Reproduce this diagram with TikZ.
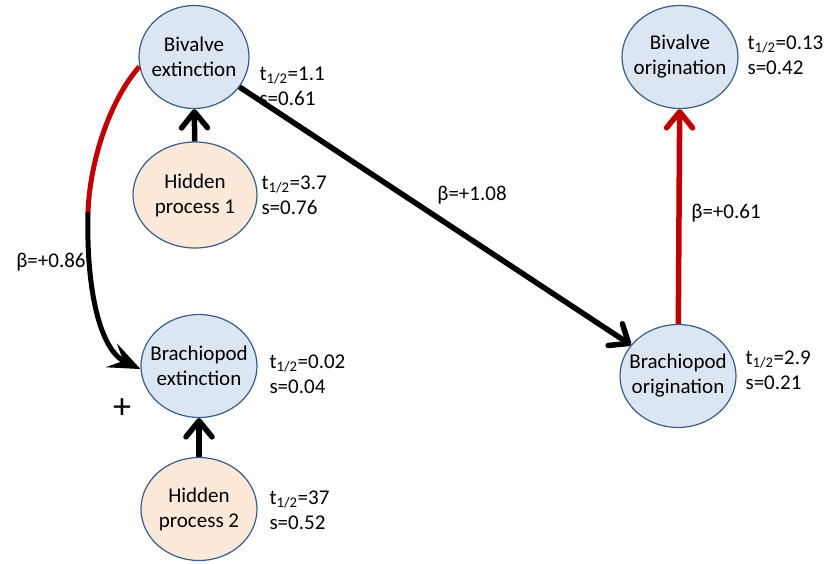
\documentclass[tikz,border=0pt]{standalone}
\usepackage{fontspec}
\setmainfont{Carlito}
\usetikzlibrary{shapes.geometric}
\usetikzlibrary{arrows.meta}
\definecolor{rateblue}{RGB}{220,230,242}
\definecolor{hiddenpeach}{RGB}{253,233,217}
\definecolor{rimblue}{RGB}{56,93,138}
\definecolor{linkred}{RGB}{192,0,0}

\begin{document}
\begin{tikzpicture}[x=1pt, y=-1pt, font=\fontsize{21}{25}\selectfont,
		rate/.style={draw=rimblue, line width=1.2pt, fill=rateblue, ellipse, inner sep=-20pt,
			minimum width=116pt, minimum height=103pt, align=center},
		hidden/.style={rate, fill=hiddenpeach},
		link/.style={line width=5.5pt, -{Straight Barb[length=16pt, width=26pt, round]}},
		stats/.style={anchor=west, align=left}]
		\useasboundingbox (0, 0) rectangle (836, 563);

		% processes
		\node (bext) [rate, minimum width=110pt] at (194, 57) {Bivalve\\extinction};
		\node (hid1) [hidden, minimum width=124pt, minimum height=106pt] at (195, 195) {Hidden\\process 1};
		\node (bxext) [rate] at (199, 366) {Brachiopod\\extinction};
		\node (hid2) [hidden] at (199, 509) {Hidden\\process 2};
		\node (borig) [rate] at (680, 57) {Bivalve\\origination};
		\node (bxorig) [rate] at (678, 376) {Brachiopod\\origination};

		% half-lives and stds
		\node (st1) [stats] at (256, 86) {t\textsubscript{1/2}=1.1\\s=0.61};
		\node (st2) [stats] at (258, 195) {t\textsubscript{1/2}=3.7\\s=0.76};
		\node (st3) [stats] at (266, 374) {t\textsubscript{1/2}=0.02\\s=0.04};
		\node (st4) [stats] at (266, 510) {t\textsubscript{1/2}=37\\s=0.52};
		\node (st5) [stats] at (744, 55) {t\textsubscript{1/2}=0.13\\s=0.42};
		\node (st6) [stats] at (742, 370) {t\textsubscript{1/2}=2.9\\s=0.21};

		% couplings
		\draw [link] (hid1) -- (bext);
		\draw [link] (hid2) -- (bxext);
		\draw [link] (bext) -- (bxorig);
		\draw [link, linkred] (bxorig) -- (borig);

		\coordinate (bend) at (88, 212);
		\draw [line width=5pt, linkred] (bext.190) .. controls (110, 100) and (90, 160) .. (bend);
		\draw [line width=5pt, -{Stealth[length=32pt, width=26pt, inset=13pt]}] (bend) .. controls (86, 290) and (100, 350) .. (bxext.183);

		\node (beta1) at (472, 195) {β=+1.08};
		\node (beta2) at (726, 213) {β=+0.61};
		\node (beta3) at (51, 262) {β=+0.86};
		\node (sign) [font=\fontsize{36}{36}\selectfont] at (122, 409) {+};
	\end{tikzpicture}
\end{document}
